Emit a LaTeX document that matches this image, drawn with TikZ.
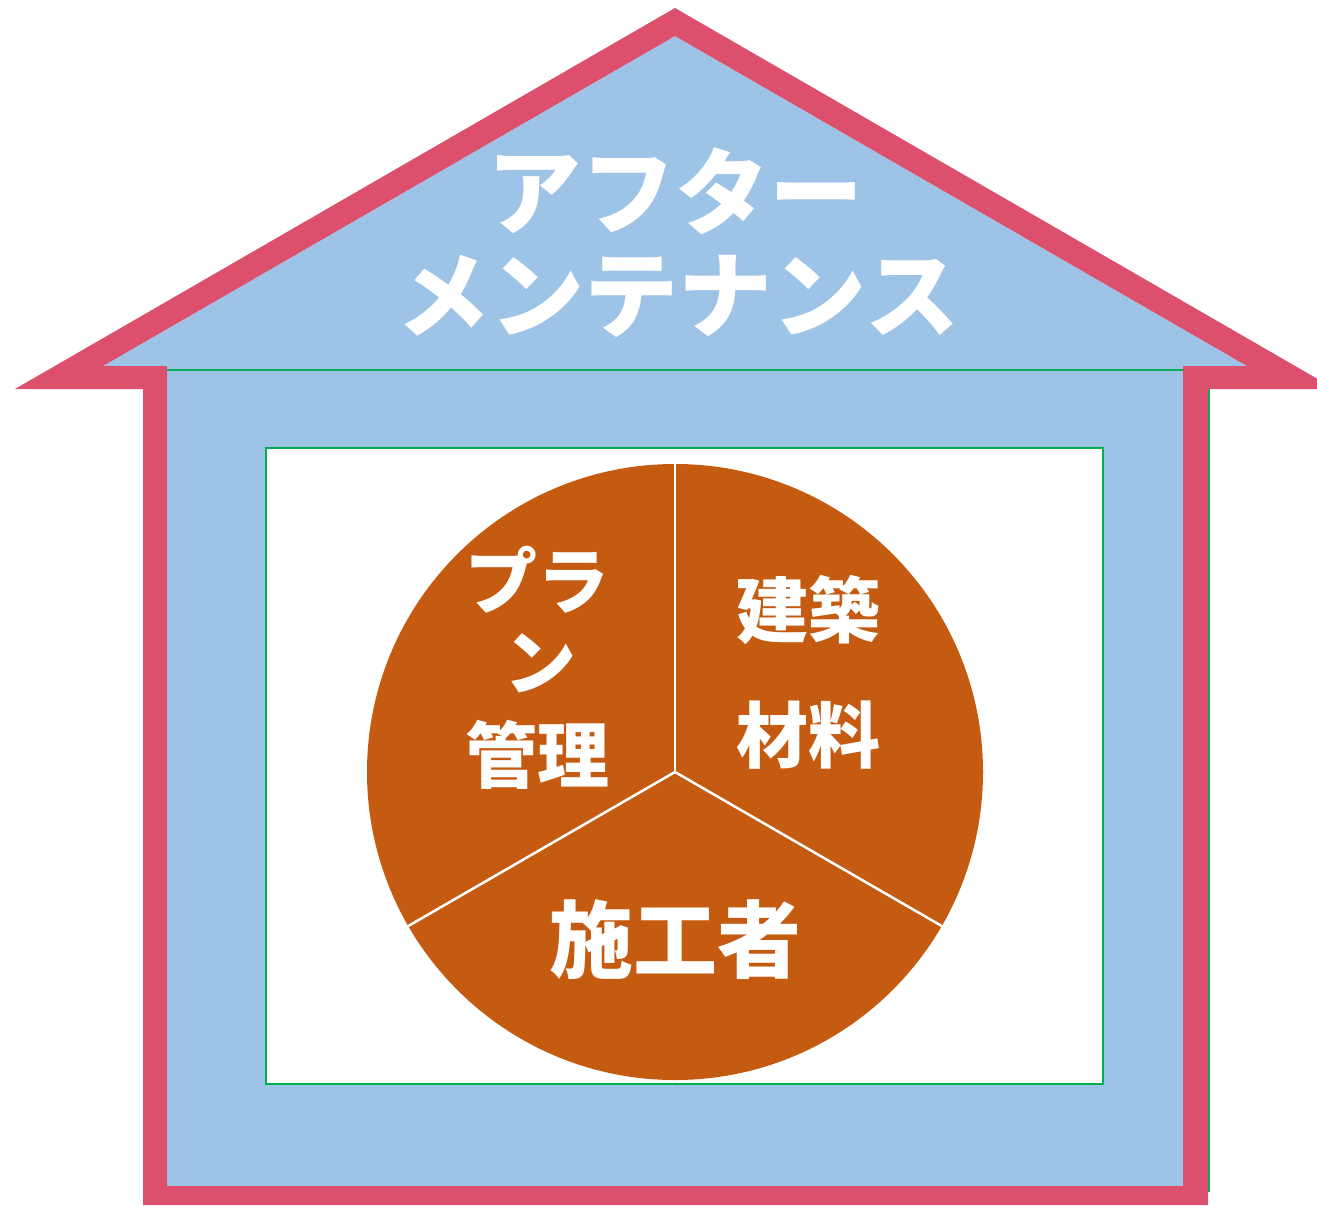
\documentclass[tikz,border=0pt]{standalone}
\usepackage{fontspec}
\newfontfamily\cjk{Noto Sans CJK JP}
\definecolor{houseblue}{HTML}{9DC3E6}
\definecolor{housepink}{HTML}{DC506E}
\definecolor{boxgreen}{HTML}{00B050}
\definecolor{pieorange}{HTML}{C55A11}
\tikzset{
  roofttext/.style={text=white,font=\cjk\bfseries\fontsize{94}{100}\selectfont,inner sep=0pt},
  pietext/.style={text=white,font=\cjk\bfseries\fontsize{72}{78}\selectfont,inner sep=0pt},
  pietextbig/.style={text=white,font=\cjk\bfseries\fontsize{84}{90}\selectfont,inner sep=0pt},
  divider/.style={white,line width=2.5pt},
}
\begin{document}
\begin{tikzpicture}[x=1pt,y=-1pt]
\useasboundingbox (0,0) rectangle (1317,1205);
\begin{scope}
\clip (0,0) rectangle (1317,1205);
% blue body
\fill[houseblue] (103,366) -- (675,36) -- (1247,366) -- (1183,366) -- (1183,1186) -- (167,1186) -- (167,366) -- cycle;
% green edges of wall
\draw[boxgreen,line width=2pt] (167,370) -- (1183,370);
\draw[boxgreen,line width=2.5pt] (1209,389) -- (1209,1192);
% pink outline
\fill[housepink,even odd rule]
  (15,389) -- (675,8) -- (1335,389) -- (1208,389) -- (1208,1205) -- (143,1205) -- (143,389) -- cycle
  (103,366) -- (675,36) -- (1247,366) -- (1183,366) -- (1183,1186) -- (167,1186) -- (167,366) -- cycle;
\end{scope}
% inner white box
\node[draw=boxgreen,fill=white,line width=2.5pt,minimum width=837pt,minimum height=636pt,inner sep=0pt] (box) at (684.5,766) {};
% pie
\node[circle,fill=pieorange,minimum size=616pt,inner sep=0pt] (pie) at (675,772) {};
\coordinate (c) at (675,772);
\draw[divider] (c) -- (pie.north);
\draw[divider] (c) -- (pie.210);
\draw[divider] (c) -- (pie.330);
% texts
\node[roofttext] (t1) at (675,191) {アフター};
\node[roofttext] (t2) at (678,296) {メンテナンス};
\node[pietext] (p1) at (537,580) {プラ};
\node[pietext] (p2) at (540,663) {ン};
\node[pietext] (p3) at (537,755) {管理};
\node[pietext] (k1) at (808,610) {建築};
\node[pietext] (k2) at (808,735) {材料};
\node[pietextbig] (s1) at (675,940) {施工者};
\end{tikzpicture}
\end{document}
